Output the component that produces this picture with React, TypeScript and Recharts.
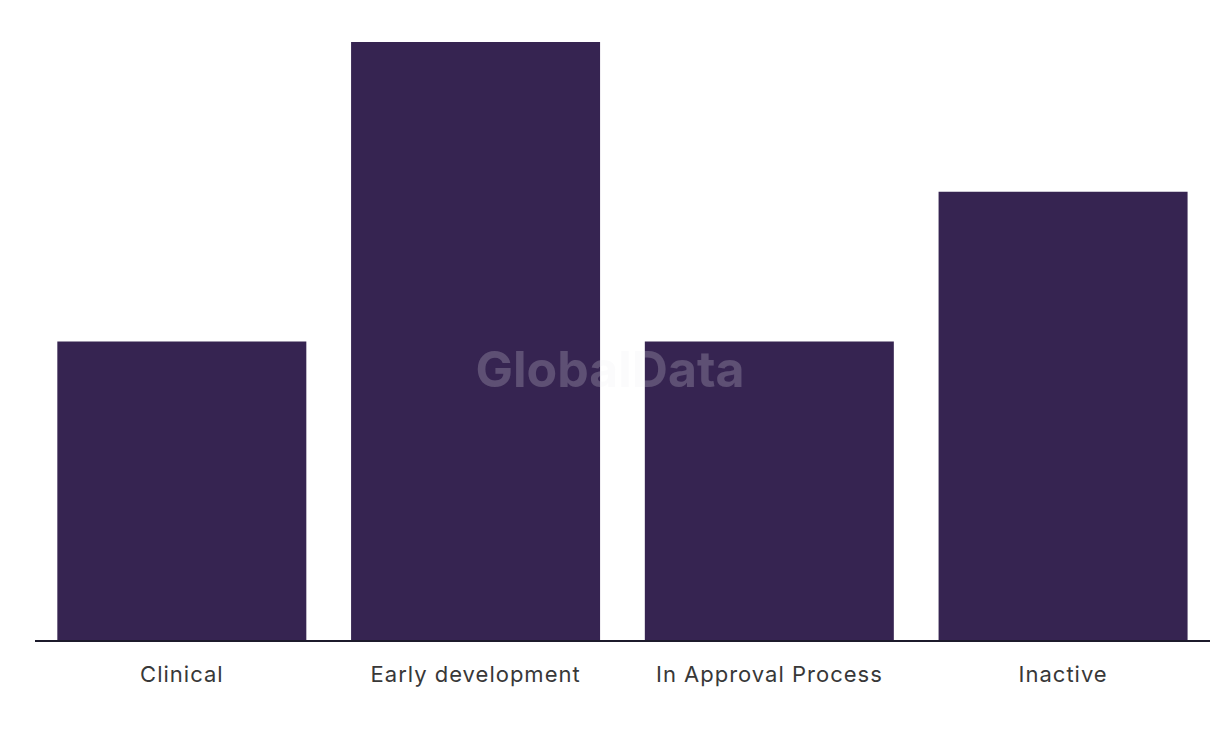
import { Bar, BarChart, XAxis, YAxis } from 'recharts';

const stages = ['Clinical', 'Early development', 'In Approval Process', 'Inactive'];
const counts = [2, 4, 2, 3];

const data = stages.map((stage, i) => ({ stage, count: counts[i] }));

export default function App() {
  return (
    <div style={{ position: 'relative', width: 1220, height: 736, margin: -8, background: '#fff' }}>
      <BarChart
        width={1220}
        height={736}
        data={data}
        margin={{ top: 42, right: 10, bottom: 65, left: 35 }}
        barCategoryGap="7.6%"
      >
        <XAxis
          dataKey="stage"
          height={30}
          tickLine={false}
          tickSize={0}
          tickMargin={25}
          axisLine={{ stroke: '#1c1a2b', strokeWidth: 2 }}
          tick={{ fill: '#383838', fontSize: 22, letterSpacing: 1, fontFamily: 'Inter, "Noto Sans", sans-serif' }}
        />
        <YAxis hide domain={[0, 4]} />
        <Bar dataKey="count" fill="#362451" isAnimationActive={false} />
      </BarChart>
      <div
        style={{
          position: 'absolute',
          left: 0,
          width: 1220,
          top: 339,
          textAlign: 'center',
          fontFamily: 'Inter, "Noto Sans", sans-serif',
          fontWeight: 700,
          fontSize: 50,
          lineHeight: '60px',
          color: 'rgba(235, 235, 240, 0.22)',
          pointerEvents: 'none',
        }}
      >
        GlobalData
      </div>
    </div>
  );
}
